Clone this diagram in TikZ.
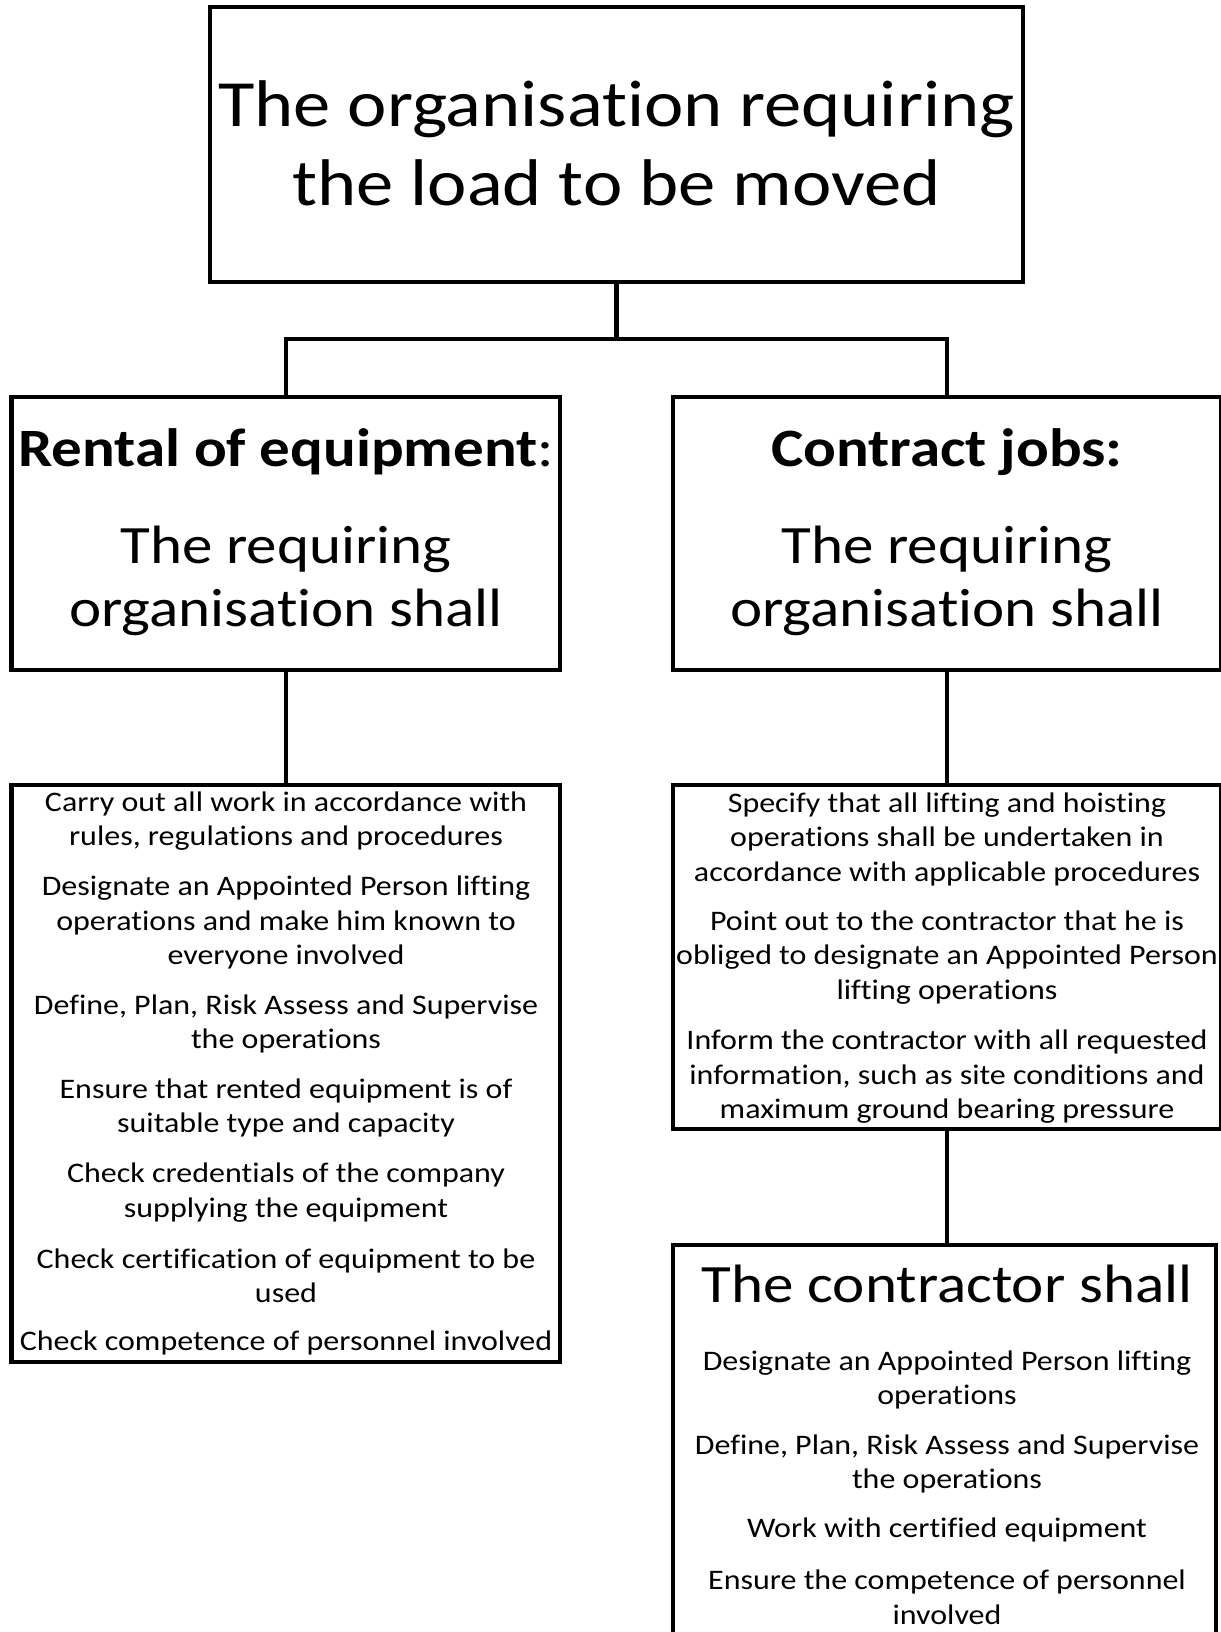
\documentclass[tikz,border=0pt]{standalone}
\usepackage{fontspec}
\setmainfont{Carlito}[FakeStretch=1.13, Ligatures={NoCommon}]
\begin{document}
\begin{tikzpicture}[x=1pt,y=-1pt,
  box/.style={draw=black, line width=4.5pt, inner sep=0pt, outer sep=0pt, anchor=north west},
  conn/.style={draw=black, line width=4.5pt},
  bigtxt/.style={inner sep=0pt, align=center, font=\fontsize{66}{79}\selectfont},
  headtxt/.style={inner sep=0pt, align=center, font=\fontsize{54}{63}\selectfont},
  contxt/.style={inner sep=0pt, align=center, font=\fontsize{54}{63}\selectfont},
  itemtxt/.style={inner sep=0pt, align=center, font=\fontsize{28.3}{34.5}\selectfont}]
\useasboundingbox (0,0) rectangle (1220,1632);
\fill[white] (0,0) rectangle (1220,1632);

% boxes
\node[box, minimum width=813pt, minimum height=275pt] (top) at (210,7) {};
\node[box, minimum width=548.5pt, minimum height=273pt] (left) at (11.5,397) {};
\node[box, minimum width=548pt, minimum height=273pt] (right) at (673,397) {};
\node[box, minimum width=548.5pt, minimum height=577pt] (llist) at (11.5,785) {};
\node[box, minimum width=548pt, minimum height=344pt] (rlist) at (673,785) {};
\node[box, minimum width=543pt, minimum height=420pt] (contr) at (673,1245) {};

% connectors
\path (top.south) ++(0,57) coordinate (jn);
\draw[conn] (top.south) -- (jn);
\draw[conn] (left.north) |- (jn) -| (right.north);
\draw[conn] (left.south) -- (llist.north);
\draw[conn] (right.south) -- (rlist.north);
\draw[conn] (rlist.south) -- (contr.north -| rlist.south);

% texts
\node[bigtxt] (t1) at (616.5,143.5) {The organisation requiring\\the load to be moved};

\node[headtxt] (h1) at (286,452) {\textbf{Rental of equipment}:};
\node[headtxt] (h2) at (286,580.5) {The requiring\\organisation shall};
\node[headtxt] (h3) at (947,452) {\textbf{Contract jobs:}};
\node[headtxt] (h4) at (947,580.5) {The requiring\\organisation shall};

\node[itemtxt] (l1) at (286,821) {Carry out all work in accordance with\\rules, regulations and procedures};
\node[itemtxt] (l2) at (286,922.5) {Designate an Appointed Person lifting\\operations and make him known to\\everyone involved};
\node[itemtxt] (l3) at (286,1024) {Define, Plan, Risk Assess and Supervise\\the operations};
\node[itemtxt] (l4) at (286,1108) {Ensure that rented equipment is of\\suitable type and capacity};
\node[itemtxt] (l5) at (286,1192.5) {Check credentials of the company\\supplying the equipment};
\node[itemtxt] (l6) at (286,1276) {Check certification of equipment to be\\used};
\node[itemtxt] (l7) at (286,1343) {Check competence of personnel involved};

\node[itemtxt] (r1) at (947,839) {Specify that all lifting and hoisting\\operations shall be undertaken in\\accordance with applicable procedures};
\node[itemtxt] (r2) at (947,957.5) {Point out to the contractor that he is\\obliged to designate an Appointed Person\\lifting operations};
\node[itemtxt] (r3) at (947,1077) {Inform the contractor with all requested\\information, such as site conditions and\\maximum ground bearing pressure};

\node[contxt] (c0) at (947,1284) {The contractor shall};
\node[itemtxt] (c1) at (947,1380) {Designate an Appointed Person lifting\\operations};
\node[itemtxt] (c2) at (947,1464) {Define, Plan, Risk Assess and Supervise\\the operations};
\node[itemtxt] (c3) at (947,1530) {Work with certified equipment};
\node[itemtxt] (c4) at (947,1597.5) {Ensure the competence of personnel\\involved};
\end{tikzpicture}
\end{document}
